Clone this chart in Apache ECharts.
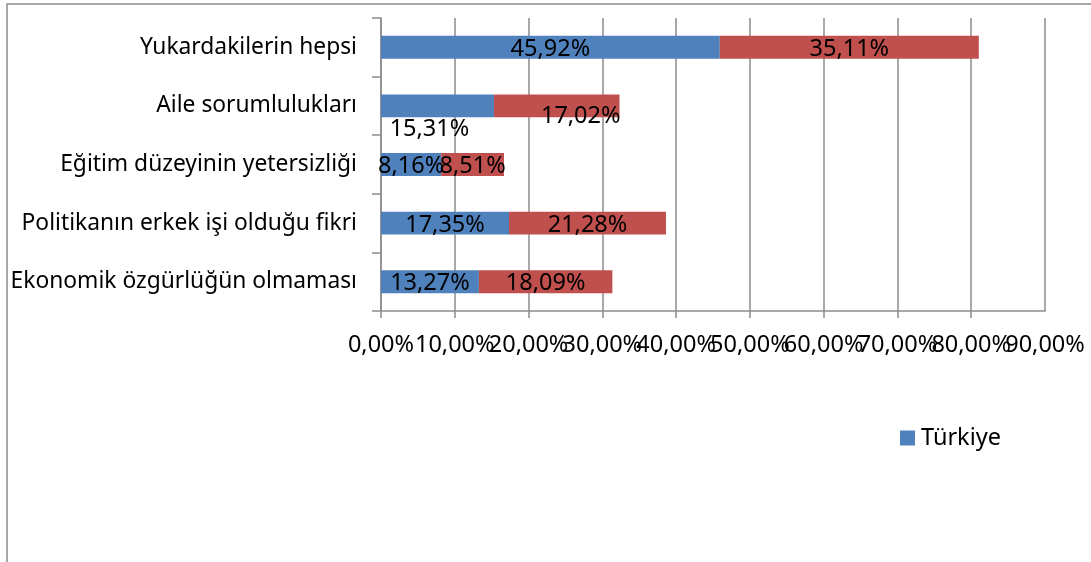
<!DOCTYPE html>
<html>
<head>
<meta charset="utf-8">
<script src="https://cdn.jsdelivr.net/npm/echarts@6/dist/echarts.min.js"></script>
<style>
html,body{margin:0;padding:0;background:#fff;}
#chart{width:1091px;height:562px;}
</style>
</head>
<body>
<div id="chart"></div>
<script>
const categories = [
  'Yukardakilerin hepsi',
  'Aile sorumlulukları',
  'Eğitim düzeyinin yetersizliği',
  'Politikanın erkek işi olduğu fikri',
  'Ekonomik özgürlüğün olmaması'
];
const turkiyeValues = [45.92, 15.31, 8.16, 17.35, 13.27];
const secondValues = [35.11, 17.02, 8.51, 21.28, 18.09];
const seriesNames = ['Türkiye', 'Seri 2'];
const xTicks = { min: 0, max: 90, interval: 10 };

const FONT = 'Noto Sans';
const FS = 23.5;
const CAT_FS = 22.8;
const fmt = v => v.toFixed(2).replace('.', ',') + '%';

// label placement tweaks (style only), by category index
const blueNudge = { 1: [-8, 23] };
const redNudge = { 1: [24, 10] };

function items(vals, nudge) {
  return vals.map((v, i) => nudge[i] ? { value: v, label: { offset: nudge[i] } } : v);
}

const chart = echarts.init(document.getElementById('chart'), null, { renderer: 'canvas' });
const labelStyle = {
  show: true,
  position: 'inside',
  color: '#000',
  fontFamily: FONT,
  fontSize: FS,
  formatter: p => fmt(p.value),
  offset: [0, 2]
};
const gray = '#8c8c8c';
const tickLabelBase = {
  color: '#000',
  fontFamily: FONT,
  fontSize: FS,
  margin: 22,
  hideOverlap: false
};
chart.setOption({
  animation: false,
  backgroundColor: '#fff',
  textStyle: { fontFamily: FONT },
  graphic: [{
    type: 'rect',
    shape: { x: 7, y: 4, width: 1200, height: 700 },
    style: { fill: 'none', stroke: gray, lineWidth: 1.5 },
    silent: true
  }],
  grid: { left: 381, right: 46, top: 18, bottom: 251, containLabel: false, outerBoundsMode: 'none' },
  legend: {
    data: [seriesNames[0]],
    left: 895,
    top: 421,
    itemWidth: 15,
    itemHeight: 15,
    itemGap: 10,
    icon: 'rect',
    textStyle: { fontFamily: FONT, fontSize: FS, color: '#000', padding: [0, 0, 0, 1] }
  },
  xAxis: [
    {
      type: 'value',
      min: xTicks.min,
      max: xTicks.max,
      interval: xTicks.interval,
      axisLine: { show: true, lineStyle: { color: gray, width: 1.5 } },
      axisTick: { show: true, length: 7, lineStyle: { color: gray, width: 1.5 } },
      splitLine: { show: true, lineStyle: { color: gray, width: 1.5 } },
      axisLabel: Object.assign({}, tickLabelBase, {
        formatter: v => fmt(v),
        showMinLabel: true,
        showMaxLabel: false
      })
    },
    {
      type: 'value',
      position: 'bottom',
      min: xTicks.min,
      max: xTicks.max,
      interval: xTicks.interval,
      axisLine: { show: false },
      axisTick: { show: false },
      splitLine: { show: false },
      axisLabel: Object.assign({}, tickLabelBase, {
        formatter: v => (v === xTicks.max ? fmt(v) : ''),
        showMinLabel: false,
        showMaxLabel: true
      })
    }
  ],
  yAxis: {
    type: 'category',
    data: categories,
    inverse: true,
    axisLine: { show: true, lineStyle: { color: gray, width: 1.5 } },
    axisTick: { show: true, length: 9, lineStyle: { color: gray, width: 1.5 } },
    splitLine: { show: false },
    axisLabel: { color: '#000', fontFamily: FONT, fontSize: CAT_FS, margin: 24 }
  },
  series: [
    {
      name: seriesNames[0],
      type: 'bar',
      stack: 'total',
      data: items(turkiyeValues, blueNudge),
      itemStyle: { color: '#4F81BD' },
      barCategoryGap: '61%',
      label: labelStyle
    },
    {
      name: seriesNames[1],
      type: 'bar',
      stack: 'total',
      data: items(secondValues, redNudge),
      itemStyle: { color: '#C0504D' },
      barCategoryGap: '61%',
      label: labelStyle
    }
  ]
});
</script>
</body>
</html>
